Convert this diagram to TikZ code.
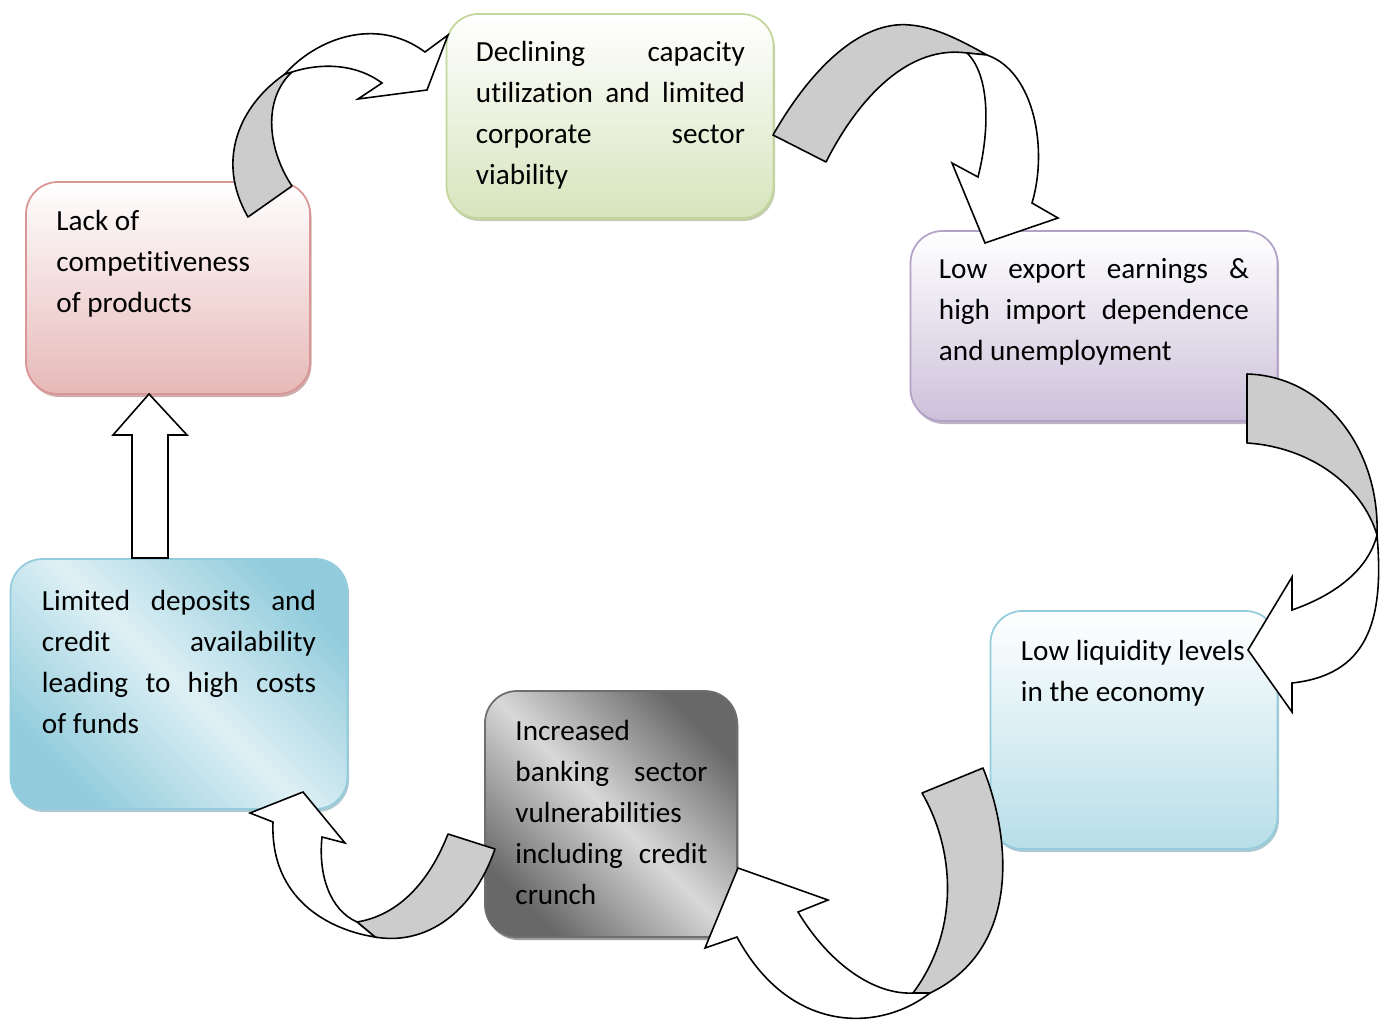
\documentclass[tikz,border=0pt]{standalone}
\usepackage{fontspec}
\setmainfont{Carlito}[Ligatures={TeX,NoCommon,NoRare,NoContextual}, Contextuals=NoAlternate]
\usetikzlibrary{shadows, positioning}
\definecolor{greenfill}{RGB}{215,228,189}
\definecolor{greenline}{RGB}{195,214,155}
\definecolor{purplefill}{RGB}{204,193,218}
\definecolor{purpleline}{RGB}{179,162,199}
\definecolor{bluefill}{RGB}{183,222,232}
\definecolor{blueline}{RGB}{147,205,221}
\definecolor{pinkfill}{RGB}{230,185,184}
\definecolor{pinkline}{RGB}{217,150,148}
\definecolor{depdark}{RGB}{146,204,220}
\definecolor{deplight}{RGB}{222,240,245}
\definecolor{bankdark}{RGB}{104,104,104}
\definecolor{banklight}{RGB}{216,216,216}
\definecolor{bankline}{RGB}{110,110,110}

\begin{document}
\begin{tikzpicture}[x=0.2mm, y=-0.2mm, font=\fontsize{16.6}{23.3}\selectfont,
  stage/.style={rounded corners=6.4mm, line width=1pt, draw=#1,
    drop shadow={shadow xshift=0.3mm, shadow yshift=-0.6mm, fill=#1!80!black, opacity=0.6}},
  stagetext/.style={anchor=north west, inner sep=0pt, text width=#1, align=justify},
  backpart/.style={draw, line width=0.9pt, fill=black!20, line join=round},
  frontpart/.style={draw, line width=0.9pt, fill=white}]
  \useasboundingbox (0,0) rectangle (1388,1020);

  % boxes of the cycle
  \node[stage=greenline, top color=white, bottom color=greenfill, minimum width=65.4mm, minimum height=40.8mm] (decline) at (610,116) {};
  \node[stage=purpleline, top color=white, bottom color=purplefill, minimum width=73.4mm, minimum height=38mm] (export) at (1094,326) {};
  \node[stage=blueline, top color=white, bottom color=bluefill, minimum width=57.4mm, minimum height=47.6mm] (liquidity) at (1134,730) {};
  \node[stage=bankline, top color=bankdark, bottom color=bankdark, middle color=banklight, shading angle=-45,
    minimum width=50.4mm, minimum height=49.2mm] (banking) at (611,814) {};
  \node[stage=blueline, top color=depdark, bottom color=depdark, middle color=deplight, shading angle=-45,
    minimum width=67.4mm, minimum height=50mm] (deposits) at (179,684) {};
  \node[stage=pinkline, top color=white, bottom color=pinkfill, minimum width=56.8mm, minimum height=42.4mm] (compet) at (168,288) {};

  % texts
  \node[stagetext=53.8mm] (decline text) at ([shift={(6mm,-5.6mm)}]decline.north west)
    {Declining capacity\linebreak utilization and limited\linebreak corporate sector\linebreak viability};
  \node[stagetext=62mm] (export text) at ([shift={(5.8mm,-5.6mm)}]export.north west)
    {Low export earnings \&\linebreak high import dependence\linebreak and unemployment};
  \node[stagetext=55mm, align=flush left] (liquidity text) at ([shift={(6.2mm,-6mm)}]liquidity.north west)
    {Low liquidity levels\\in the economy};
  \node[stagetext=38.4mm] (banking text) at ([shift={(6.2mm,-6mm)}]banking.north west)
    {Increased\\banking sector\linebreak vulnerabilities\\including credit\linebreak crunch};
  \node[stagetext=54.8mm] (deposits text) at ([shift={(6.4mm,-6.4mm)}]deposits.north west)
    {Limited deposits and\linebreak credit availability\linebreak leading to high costs\linebreak of funds};
  \node[stagetext=50mm, align=flush left] (compet text) at ([shift={(6.2mm,-5.8mm)}]compet.north west)
    {Lack of\\competitiveness\\of products};

  % curved arrows between the boxes
  \draw[backpart] (248,217) -- (292,186) .. controls (268,150) and (262,100) .. (292,72)
    -- (285,74) .. controls (240,105) and (215,160) .. (248,217) -- cycle;
  \draw[frontpart] (285,74) .. controls (315,40) and (375,15) .. (425,52) -- (448,35) -- (427,90)
    -- (358,99) -- (382,83) .. controls (355,63) and (320,63) .. (292,72) -- cycle;

  \draw[backpart] (773,135) .. controls (810,70) and (860,20) .. (910,25) .. controls (935,27) and (960,40) .. (987,55)
    -- (967,53) .. controls (910,45) and (860,95) .. (826,162) -- cycle;
  \draw[frontpart] (987,55) .. controls (1035,72) and (1048,150) .. (1032,203) -- (1058,218) -- (985,243)
    -- (952,163) -- (978,177) .. controls (990,130) and (990,75) .. (967,53) -- cycle;

  \draw[backpart] (1247,374) .. controls (1325,376) and (1380,450) .. (1377,535)
    .. controls (1362,485) and (1310,447) .. (1247,443) -- cycle;
  \draw[frontpart] (1377,535) .. controls (1385,625) and (1365,675) .. (1292,683) -- (1292,712) -- (1248,650)
    -- (1292,577) -- (1292,610) .. controls (1335,595) and (1368,570) .. (1377,535) -- cycle;

  \draw[backpart] (922,793) -- (983,768) .. controls (1012,840) and (1020,950) .. (930,993)
    -- (913,993) .. controls (960,930) and (955,850) .. (922,793) -- cycle;
  \draw[frontpart] (930,993) .. controls (880,1032) and (790,1035) .. (737,937) -- (705,948) -- (738,868)
    -- (828,900) -- (798,912) .. controls (830,965) and (875,995) .. (913,993) -- cycle;

  \draw[backpart] (448,834) -- (495,849) .. controls (470,920) and (420,945) .. (375,937)
    -- (357,922) .. controls (400,915) and (430,880) .. (448,834) -- cycle;
  \draw[frontpart] (375,937) .. controls (330,930) and (270,900) .. (273,822) -- (250,813) -- (303,792)
    -- (345,843) -- (322,837) .. controls (318,875) and (330,910) .. (357,922) -- cycle;

  % straight arrow up to the first box
  \draw[frontpart] (132,558) -- (132,435) -- (113,435) -- (149,394) -- (187,435) -- (168,435) -- (168,558) -- cycle;
\end{tikzpicture}
\end{document}
